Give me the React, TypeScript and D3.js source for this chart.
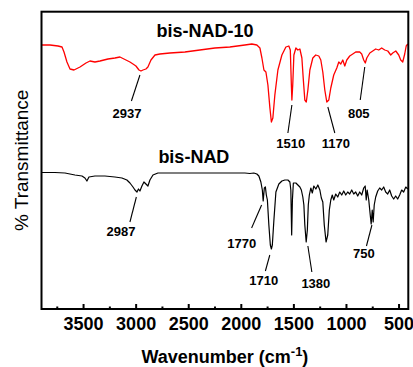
import React from "react";
import * as d3 from "d3";

// Wavenumber (cm-1) and transmittance (arbitrary units)
const redWave = [3900,3819,3743,3705,3686,3658,3629,3591,3534,3477,3439,3392,3344,3268,3202,3154,3097,3059,3030,3002,2973,2954,2935,2907,2888,2859,2821,2774,2679,2536,2394,2251,2109,1966,1900,1852,1823,1804,1785,1766,1747,1728,1714,1700,1681,1652,1614,1576,1548,1534,1524,1519,1511,1500,1481,1462,1443,1424,1410,1396,1382,1367,1348,1320,1292,1263,1244,1225,1206,1187,1168,1149,1121,1092,1073,1054,1035,1016,997,969,940,912,874,855,836,821,807,778,750,722,693,665,636,607,579,560,531,503,484,465,446,432,417];
const redT = [264,264,263,262,257,247,240,239,242,246,248,247,248,250,251,252,249,247,245,243,239,238,239,240,242,249,254,255,256,257,259,261,262,264,265,264,261,251,239,237,224,201,187,191,214,239,254,262,263,259,224,209,224,254,261,259,260,251,229,209,207,219,239,251,254,253,249,237,219,207,209,221,234,241,247,245,249,243,249,253,255,257,257,255,249,246,251,256,258,260,259,261,259,258,254,256,258,254,249,247,255,263,265];

const blackWave = [3900,3772,3677,3582,3515,3487,3468,3449,3392,3297,3202,3135,3088,3059,3030,3011,2992,2978,2964,2945,2926,2907,2888,2869,2840,2793,2679,2489,2299,2109,1966,1919,1881,1852,1833,1814,1800,1792,1781,1771,1762,1752,1738,1724,1714,1705,1690,1671,1643,1614,1586,1557,1538,1529,1521,1514,1505,1481,1462,1443,1429,1415,1405,1396,1383,1372,1363,1353,1339,1325,1310,1291,1272,1253,1239,1225,1211,1194,1178,1163,1149,1135,1121,1102,1083,1064,1045,1026,1007,988,969,950,931,912,893,874,855,836,822,812,803,788,774,765,755,746,736,722,703,684,665,646,627,608,589,570,551,532,513,494,475,456,436,417];
const blackT = [136.5,136.5,136,134,133,131,128,132,133,133,132,131,129,126,122,119,117,120,118,123,127,125,123,129,134,136,136,136,136,136,136,135.5,136,135,133,127,119,108,121,122,114,109,84,64,60,64,89,117,125,128,129,129,127,119,74,109,126,126,124,122,119,112,104,84,67,79,104,114,121,116,123,120,124,119,111,107,84,67,74,99,109,114,109,115,112,117,114,118,114,117,115,119,115,117,113,117,114,121,123,109,119,109,94,85,99,87,104,112,118,121,119,122,117,115,119,113,110,113,110,114,119,117,122,120];

const seriesNames = ["bis-NAD-10", "bis-NAD"];
const seriesColors = ["#ff0000", "#000000"];
const seriesLabelWave = [2346, 2451];
const seriesLabelT = [272, 146];

// annotations: label, peak point (w1,t1) -> line end (w2,t2), text center (wt, tt baseline)
const annLabels = ["2937", "1510", "1170", "805", "2987", "1770", "1710", "1380", "750"];
const annW1 = [2964, 1519, 1177, 826, 2998, 1807, 1729, 1367, 758];
const annT1 = [234, 204, 202, 242, 112, 104, 54, 63, 84];
const annW2 = [3045, 1557, 1111, 869, 3059, 1902, 1771, 1329, 810];
const annT2 = [208, 176, 176, 209, 87, 81, 38, 37, 63];
const annWT = [3087, 1529, 1101, 883, 3144, 1996, 1786, 1291, 835];
const annTT = [191, 161, 161, 191, 73, 61, 24, 21, 51];

const majorTicks = [3500, 3000, 2500, 2000, 1500, 1000, 500];
const minorTicks = [3750, 3250, 2750, 2250, 1750, 1250, 750];

const W = 413, H = 367;
const left = 41.5, right = 408.3, top = 11.7, bottom = 309;
const FONT = "'Liberation Sans', Arial, Helvetica, sans-serif";

export default function App() {
  const x = d3.scaleLinear().domain([3900, 412]).range([left, right]);
  const y = d3.scaleLinear().domain([0, bottom - top]).range([bottom, top]);

  const line = d3.line<[number, number]>().x((d) => x(d[0])).y((d) => y(d[1]));
  const redPts = redWave.map((w, i) => [w, redT[i]] as [number, number]);
  const blackPts = blackWave.map((w, i) => [w, blackT[i]] as [number, number]);

  return (
    <svg width={W} height={H} style={{ position: "absolute", left: 0, top: 0, background: "#fff" }}>
      <rect x={0} y={0} width={W} height={H} fill="#fff" />
      <path d={line(redPts) || ""} fill="none" stroke={seriesColors[0]} strokeWidth={1.3} strokeLinejoin="round" />
      <path d={line(blackPts) || ""} fill="none" stroke={seriesColors[1]} strokeWidth={1.2} strokeLinejoin="round" />

      {seriesNames.map((n, i) => (
        <text key={n} x={x(seriesLabelWave[i])} y={y(seriesLabelT[i])} textAnchor="middle"
          fontFamily={FONT} fontWeight="bold" fontSize={18} fill="#000">{n}</text>
      ))}

      {annLabels.map((l, i) => (
        <g key={l + i}>
          <line x1={x(annW1[i])} y1={y(annT1[i])} x2={x(annW2[i])} y2={y(annT2[i])} stroke="#000" strokeWidth={1.1} />
          <text x={x(annWT[i])} y={y(annTT[i])} textAnchor="middle" fontFamily={FONT} fontWeight="bold" fontSize={13} fill="#000">{l}</text>
        </g>
      ))}

      {majorTicks.map((t) => (
        <g key={t}>
          <line x1={x(t)} x2={x(t)} y1={bottom} y2={bottom - 5} stroke="#000" strokeWidth={2} />
          <text x={x(t)} y={330} textAnchor="middle" fontFamily={FONT} fontWeight="bold" fontSize={18} fill="#000">{t}</text>
        </g>
      ))}
      {minorTicks.map((t) => (
        <line key={t} x1={x(t)} x2={x(t)} y1={bottom} y2={bottom - 2.5} stroke="#000" strokeWidth={2} />
      ))}

      <rect x={left} y={top} width={right - left} height={bottom - top} fill="none" stroke="#000" strokeWidth={2} />

      <text x={(left + right) / 2} y={363} textAnchor="middle" fontFamily={FONT} fontWeight="bold" fontSize={18} fill="#000">
        Wavenumber (cm<tspan dy={-7} fontSize={13}>-1</tspan><tspan dy={7}>)</tspan>
      </text>
      <text transform={`translate(28, ${(top + bottom) / 2}) rotate(-90)`} textAnchor="middle" fontFamily={FONT} fontSize={19} fill="#000">
        % Transmittance
      </text>
    </svg>
  );
}
